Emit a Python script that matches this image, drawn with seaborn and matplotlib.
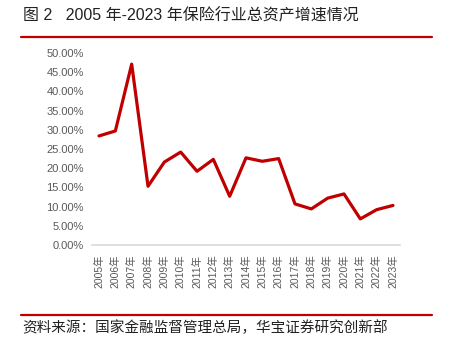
import matplotlib
matplotlib.use("Agg")
import matplotlib.pyplot as plt
import seaborn as sns
import pandas as pd
from matplotlib.ticker import FuncFormatter

years = [str(y) + "年" for y in range(2005, 2024)]
growth = [28.4, 29.7, 47.1, 15.3, 21.6, 24.2, 19.2, 22.3, 12.7, 22.7,
          21.8, 22.5, 10.7, 9.4, 12.2, 13.3, 6.8, 9.2, 10.3]

title = "图 2   2005 年-2023 年保险行业总资产增速情况"
source = "资料来源：国家金融监督管理总局，华宝证券研究创新部"

sns.set_theme(style="white")
plt.rcParams["font.family"] = ["Liberation Sans", "Noto Sans CJK SC", "DejaVu Sans"]

df = pd.DataFrame({"year": years, "growth": growth})
df["idx"] = range(len(years))

fig = plt.figure(figsize=(4.52, 3.52), dpi=100)
ax = fig.add_axes([92 / 452, 1 - 245 / 352, 308 / 452, 192 / 352])

sns.lineplot(data=df, x="idx", y="growth", ax=ax, color="#c00000", linewidth=2.3)

ax.set_xlim(-0.43, len(years) - 1 + 0.43)
ax.set_ylim(0, 50)
ax.set_yticks(range(0, 51, 5))
ax.yaxis.set_major_formatter(FuncFormatter(lambda v, p: f"{v:.2f}%"))
ax.set_xticks(df["idx"])
ax.set_xticklabels(years, rotation=90)
ax.tick_params(axis="both", length=0, labelsize=8, colors="#595959", pad=6)
ax.tick_params(axis="x", labelsize=7.5, pad=7)
ax.set_xlabel("")
ax.set_ylabel("")
for s in ["top", "right", "left"]:
    ax.spines[s].set_visible(False)
ax.spines["bottom"].set_color("#d9d9d9")
ax.spines["bottom"].set_linewidth(1.2)
ax.grid(False)

fig.text(23 / 452, 1 - 16 / 352, title, fontsize=11.5, color="#222222",
         va="center", ha="left")
fig.add_artist(plt.Line2D([21 / 452, 432 / 452], [1 - 37 / 352, 1 - 37 / 352],
                          color="#c00000", linewidth=1.6))
fig.add_artist(plt.Line2D([21 / 452, 432 / 452], [1 - 315 / 352, 1 - 315 / 352],
                          color="#c00000", linewidth=1.6))
fig.text(22 / 452, 1 - 328 / 352, source, fontsize=10.5, color="#222222",
         va="center", ha="left")

fig.savefig("out.png", dpi=100)
